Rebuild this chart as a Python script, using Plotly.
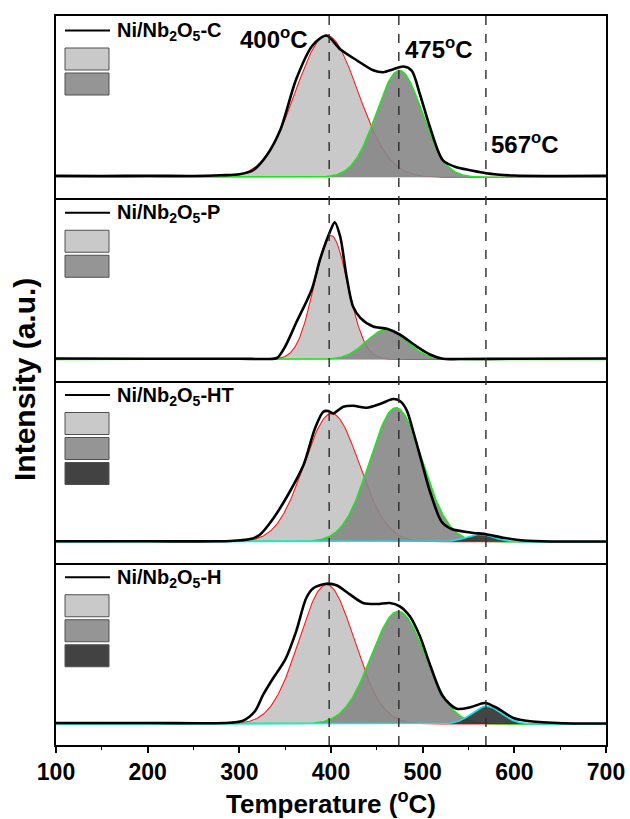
import numpy as np
import plotly.graph_objects as go
from plotly.subplots import make_subplots

# ---------------- data ----------------
SAMPLES = ["Ni/Nb<sub>2</sub>O<sub>5</sub>-C", "Ni/Nb<sub>2</sub>O<sub>5</sub>-P",
           "Ni/Nb<sub>2</sub>O<sub>5</sub>-HT", "Ni/Nb<sub>2</sub>O<sub>5</sub>-H"]

# measured TPR profiles (temperature in degC, intensity in a.u.)
C_T = [100, 150, 200, 250, 280, 300, 315, 330, 345, 362, 380, 395, 410, 428, 446, 457,
       468, 479, 488, 497, 508, 522, 537, 552, 569, 600, 650, 700]
C_I = [1.5, 1.2, 1.5, 1.3, 2, 3, 7, 22, 48, 98, 132, 141.7, 128, 117, 107, 105,
       108, 110.7, 106.7, 83, 50, 17, 10, 7, 4, 1.7, 1.3, 1.5]

P_T = [100, 200, 300, 330, 341, 350, 362, 379, 388, 399, 404, 410, 417, 424, 432, 446,
       461, 475, 493, 508, 522, 540, 600, 700]
P_I = [1, 0.8, 0.8, 0.5, 1.5, 13, 36.7, 70, 100, 128, 137.3, 123, 83, 53, 41.7, 33,
       30.7, 25, 13.3, 5, 0.7, 0.5, 0.8, 1]

HT_T = [100, 200, 290, 312, 322, 337, 355, 370, 382.5, 391.6, 397, 402.5, 413.4, 424.3,
        438.9, 453.4, 468, 475.2, 482.5, 489.8, 498.9, 508, 520.7, 531.6, 552, 570, 588,
        610, 640, 700]
HT_I = [0.5, 0.5, 0.7, 2.7, 6.7, 23.3, 50, 76.7, 113.3, 130, 130.7, 128.3, 135, 136,
        134, 137.7, 142.7, 140.7, 131.7, 110, 80, 50, 20, 12.7, 9.3, 7.3, 4,
        1.3, 0.3, 0.3]

H_T = [100, 200, 290, 304, 317, 326, 337, 350, 362, 373, 381, 395, 406, 421, 435, 450,
       464, 475, 486, 497, 508, 522, 537, 552, 568, 581, 599, 617, 653, 700]
H_I = [1, 1, 1.3, 3.3, 12.7, 29.3, 46, 64.3, 92.7, 126, 136, 140.3, 138.7, 129.3, 121,
       120, 121, 117.7, 107.7, 87.7, 59.3, 27.7, 15.3, 16.7, 21, 16, 6, 2.7, 0.7, 0.5]

MEAS_T = [C_T, P_T, HT_T, H_T]
MEAS_I = [C_I, P_I, HT_I, H_I]

# Gaussian fit components: centre (degC), height (a.u.), sigma (degC)
FIT_CENTER = [[395.3, 474.5], [400.0, 460.7], [400.7, 470.9, 562.5], [395.2, 473.4, 569.8]]
FIT_HEIGHT = [[141.7, 106.7], [124.0, 30.0], [128.3, 134.0, 7.3], [139.3, 112.7, 17.7]]
FIT_SIGMA = [[34.0, 25.0], [18.4, 22.0], [30.0, 28.6, 15.0], [30.0, 29.4, 16.0]]

DASH_T = [398, 474, 569]
PEAK_LABELS = ["400<sup>o</sup>C", "475<sup>o</sup>C", "567<sup>o</sup>C"]
X_TICKS = [100, 200, 300, 400, 500, 600, 700]

# ---------------- styles ----------------
FONT = "Arial, Liberation Sans, sans-serif"
FILL_COLORS = ["#c9c9c9", "rgba(135,135,135,0.9)", "rgba(52,52,52,0.92)"]
SWATCH_COLORS = ["#c9c9c9", "#959595", "#424242"]
LINE_COLORS = ["#ff1a1a", "#1ee61e", "#10e8f0"]
LINE_WIDTHS = [1.1, 1.5, 1.6]

W, H = 630, 819
L, R, T, B = 56, 24, 16, 74
PW, PH = W - L - R, H - T - B


def px_x(px):
    return (px - L) / PW


def px_y(py):
    return (H - B - py) / PH


fig = make_subplots(rows=4, cols=1, shared_xaxes=True, vertical_spacing=0)

grid = np.arange(90, 711, 1.0)
for i in range(4):
    row = i + 1
    for k in range(len(FIT_CENTER[i])):
        yk = FIT_HEIGHT[i][k] * np.exp(-0.5 * ((grid - FIT_CENTER[i][k]) / FIT_SIGMA[i][k]) ** 2)
        fig.add_trace(go.Scatter(x=grid, y=yk, mode="lines", fill="tozeroy",
                                 fillcolor=FILL_COLORS[k],
                                 line=dict(color=LINE_COLORS[k], width=LINE_WIDTHS[k]),
                                 showlegend=False, hoverinfo="skip"), row=row, col=1)
    fig.add_trace(go.Scatter(x=MEAS_T[i], y=MEAS_I[i], mode="lines",
                             line=dict(color="black", width=2.6, shape="spline", smoothing=0.8),
                             showlegend=False, name=SAMPLES[i]), row=row, col=1)

for i in range(4):
    row = i + 1
    fig.update_yaxes(range=[-21, 161.25], showticklabels=False, ticks="", showgrid=False,
                     zeroline=False, showline=True, mirror=True, linecolor="black",
                     linewidth=1.6, automargin=False, row=row, col=1)
    fig.update_xaxes(range=[100, 700], showgrid=False, zeroline=False, showline=True,
                     mirror=(row == 1), linecolor="black", linewidth=1.6, automargin=False,
                     row=row, col=1)

fig.update_xaxes(ticks="outside", ticklen=6, tickwidth=1.5, tickcolor="black",
                 tickvals=X_TICKS, ticktext=[str(v) for v in X_TICKS],
                 tickfont=dict(family=FONT, size=23, color="black", weight="bold"),
                 minor=dict(ticks="outside", ticklen=3, tickwidth=1.2, dtick=50,
                            tick0=100, tickcolor="black"),
                 row=4, col=1)

shapes = []
annotations = []
for t in DASH_T:
    shapes.append(dict(type="line", xref="x", yref="paper", x0=t, x1=t, y0=0, y1=1,
                       line=dict(color="#2a2a2a", width=1.4, dash="dash"), layer="above"))

# legends drawn per panel
panel_tops = [T + i * PH / 4 for i in range(4)]
for i in range(4):
    top = panel_tops[i]
    ly = top + 14.5
    shapes.append(dict(type="line", xref="paper", yref="paper", x0=px_x(65), x1=px_x(110),
                       y0=px_y(ly), y1=px_y(ly), line=dict(color="black", width=2)))
    annotations.append(dict(text="<b>" + SAMPLES[i] + "</b>", xref="paper", yref="paper",
                            x=px_x(115), y=px_y(ly + 1), xanchor="left", yanchor="middle",
                            showarrow=False, font=dict(family=FONT, size=20, color="black")))
    for k in range(len(FIT_CENTER[i])):
        y0 = top + 32 + k * 25
        shapes.append(dict(type="rect", xref="paper", yref="paper", x0=px_x(65), x1=px_x(109),
                           y0=px_y(y0), y1=px_y(y0 + 22), fillcolor=SWATCH_COLORS[k],
                           line=dict(color="#505050", width=1)))

# peak labels in top panel
label_pos = [(338, 139), (518, 129), (612, 34)]
for (lx, ly), txt in zip(label_pos, PEAK_LABELS):
    annotations.append(dict(text="<b>" + txt + "</b>", xref="x", yref="y", x=lx, y=ly,
                            showarrow=False, font=dict(family=FONT, size=24, color="black")))

annotations.append(dict(text="<b>Temperature (<sup>o</sup>C)</b>", xref="paper", yref="paper",
                        x=px_x(331), y=px_y(802), xanchor="center", yanchor="middle",
                        showarrow=False, font=dict(family=FONT, size=26, color="black")))
annotations.append(dict(text="<b>Intensity (a.u.)</b>", xref="paper", yref="paper",
                        x=px_x(24), y=px_y(380), xanchor="center", yanchor="middle",
                        textangle=-90,
                        showarrow=False, font=dict(family=FONT, size=30, color="black")))

fig.update_layout(width=W, height=H, margin=dict(l=L, r=R, t=T, b=B),
                  plot_bgcolor="white", paper_bgcolor="white",
                  shapes=shapes, annotations=annotations, showlegend=False,
                  font=dict(family=FONT, color="black"))

fig.write_html("out.html")
